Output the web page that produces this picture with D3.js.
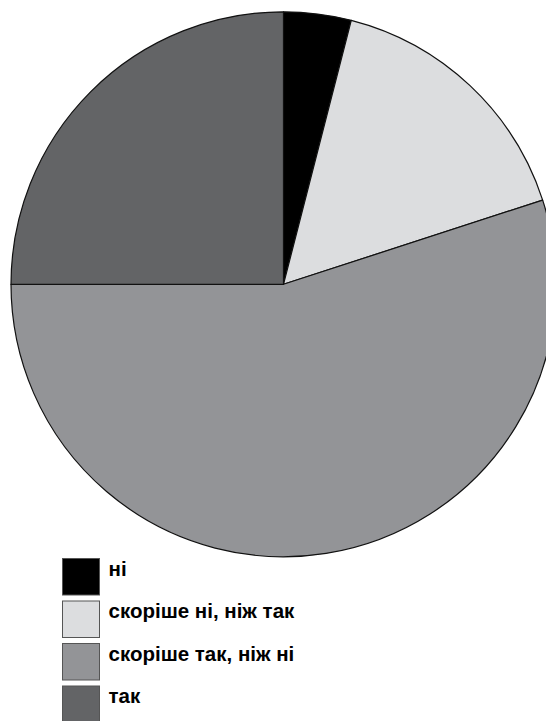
<!DOCTYPE html>
<html>
<head>
<meta charset="utf-8">
<script src="https://cdn.jsdelivr.net/npm/d3@7.9.0/dist/d3.min.js"></script>
<style>
  body { margin: 0; background: #fff; }
  svg { display: block; }
  .legend text { font-family: "Liberation Sans Narrow", "Arial Narrow", "Liberation Sans", sans-serif; font-weight: bold; fill: #000; }
</style>
</head>
<body>
<svg width="546" height="721"></svg>
<script>
// data
const categories = ['ні', 'скоріше ні, ніж так', 'скоріше так, ніж ні', 'так'];
const values = [4, 16, 55, 25];
const colors = ['#000000', '#dcdddf', '#939497', '#636466'];

const svg = d3.select('svg');
const cx = 283.5, cy = 284.3, r = 272.5;

let pie = d3.pie().sort(null).value((d) => d);
let arc = d3.arc().innerRadius(0).outerRadius(r);
let color = d3.scaleOrdinal().domain(categories).range(colors);

let g = svg.append('g').attr('transform', `translate(${cx},${cy})`);
g.selectAll('path')
  .data(pie(values))
  .join('path')
  .attr('d', arc)
  .attr('fill', (d, i) => color(categories[i]))
  .attr('stroke', '#111')
  .attr('stroke-width', 1.2)
  .attr('stroke-linejoin', 'round');

// legend
let y = d3.scaleBand().domain(categories).range([558, 723]).paddingInner(0.1176);
let legend = svg.append('g').attr('class', 'legend');
categories.forEach((c) => {
  legend.append('rect')
    .attr('x', 62.5).attr('y', y(c) + 0.5)
    .attr('width', 37).attr('height', y.bandwidth() - 1)
    .attr('fill', color(c))
    .attr('stroke', '#555').attr('stroke-width', 1);
  legend.append('text')
    .attr('x', 108.5).attr('y', y(c) + 18)
    .attr('font-size', 20.5)
    .text(c);
});
</script>
</body>
</html>
